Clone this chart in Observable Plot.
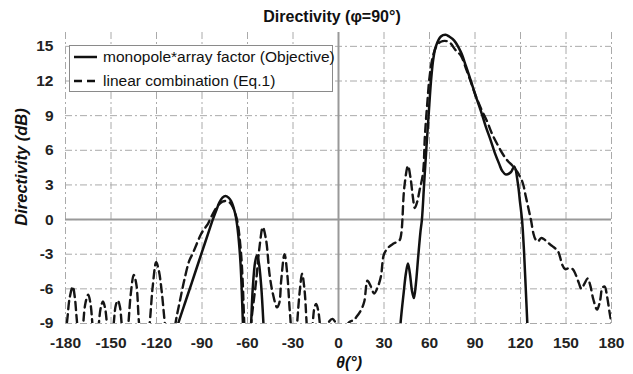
<!DOCTYPE html>
<html><head><meta charset="utf-8">
<script src="https://cdn.jsdelivr.net/npm/d3@7"></script>
<script src="https://cdn.jsdelivr.net/npm/@observablehq/plot@0.6"></script>
<style>
body{margin:0;background:#fff;font-family:"Liberation Sans",Arial,sans-serif;}
#wrap{position:relative;width:633px;height:374px;overflow:hidden;background:#fff;}
#title{position:absolute;top:9px;left:332px;transform:translateX(-50%);font-size:16px;line-height:16px;font-weight:bold;color:#111;white-space:nowrap;}
#chart{position:absolute;top:24px;left:0;}
#ylab{position:absolute;left:21px;top:167px;transform:translate(-50%,-50%) rotate(-90deg);font-size:16.5px;font-weight:bold;font-style:italic;color:#111;white-space:nowrap;}
#xlab{position:absolute;left:349px;top:363px;transform:translate(-50%,-50%);font-size:16px;font-weight:bold;font-style:italic;color:#111;white-space:nowrap;}
#legend{position:absolute;left:69px;top:45px;width:262px;height:45px;border:1.5px solid #8a8a8a;background:#fff;}
.li{position:absolute;left:3px;height:20px;display:flex;align-items:center;font-size:15.5px;color:#111;white-space:nowrap;}
.li svg{margin-right:5px;}
</style></head>
<body>
<div id="wrap">
  <div id="title">Directivity (φ=90°)</div>
  <div id="chart"></div>
  <div id="ylab">Directivity (dB)</div>
  <div id="xlab">θ(°)</div>
  <div id="legend"></div>
</div>
<script>
const seriesNames = ["monopole*array factor (Objective)", "linear combination (Eq.1)"];
const xTicks = [-180,-150,-120,-90,-60,-30,0,30,60,90,120,150,180];
const yTicks = [-9,-6,-3,0,3,6,9,12,15];

// Solid: monopole*array factor (null = gap)
const solidTheta = [
  -108,-105.7,-100,-95,-90,-85,-82.9,-80,-78.5,-76.5,-74.5,-72.5,-70.8,-68.1,-66.4,-64.6,-63,-62,
  -60,
  -58.5,-57.6,-56.5,-55,-53.8,-52.5,-51,-49.5,-48.5,
  0,
  39.5,40.9,43,44.5,45.8,47,48.5,49.7,51,52.5,54,55,56.5,58,59.4,61,62.5,64.2,67.5,70.6,73,76.3,80.7,84,87.3,90.5,93.9,97,100.5,103,106,108,110.4,113.6,115.9,118.3,119.6,121,122.3,123.4,124.5,125.5
];
const solidDb = [
  -10,-9,-6.75,-4.78,-2.8,-0.83,0,1.0,1.5,1.9,2.05,1.9,1.6,0.5,-0.95,-3.8,-9,-12,
  null,
  -12,-9,-5.9,-3.7,-3.1,-3.75,-5.7,-9,-12,
  null,
  -12,-9,-6.3,-4.6,-3.8,-4.6,-6.2,-6.8,-5.6,-3.3,-1.1,0,3.2,6.3,9,12,13.9,15.0,15.85,16.0,15.85,15.5,14.5,13.3,12.0,10.7,9.4,8.1,6.8,5.8,4.8,4.2,3.9,4.1,4.6,3.1,1.6,0,-2.7,-5.8,-9,-12
];

// Dashed: linear combination (Eq.1)
const dashTheta = [
  -180,-178.7,-177.3,-175.2,-173.8,-172.8,-172,-170,
  -168.3,-166.8,-165,-163.5,-162.3,-160,
  -158,-156.7,-155.3,-154,-152.7,-150.5,
  -148.2,-146.8,-145.5,-144.2,-143,-141,
  -138.5,-137,-135,-133.3,-131.5,-128,
  -124.5,-122.5,-120.2,-118.5,-116.5,-114.5,-111,
  -107.5,-104.5,-101.6,-98.5,-96,-90.6,-88.4,-86,-84,-79.6,-76.5,-74,-71.5,-69.7,-66.8,-64.6,-63.3,-62.4,-61.5,-60,
  -58.5,-57.6,-54.3,-52.1,-49.9,-47.7,-45.5,-43.3,-40.5,-39,-37.8,-35.6,-33.8,-32.3,-31.5,-30,
  -27.3,-25.7,-24,-22.4,-21,-19,
  -17,-15.8,-14.7,-13.5,-12.3,-10,
  -8,-6,-4,-2,0,2.5,5,7.5,10,12,15,17,19.1,21,23.5,26,28,30,33,36,40.2,41.4,43.4,45.8,47.5,49,50.3,51.8,53.4,55.7,57,58.5,60,62,64.5,67.5,71.5,74,77,80.7,84,87.3,90.5,94,98.3,101,104,108.2,111.5,114.8,118,121.4,123.5,125.5,127,128.5,129.8,131.5,133.5,135.5,138,141,144.5,146,147.5,149.5,152,154.5,156.5,158.5,160.2,162,164.3,166,168,170.5,172.5,174,175.5,177,178.8,180
];
const dashDb = [
  -10,-8.5,-6.8,-5.8,-6.8,-8.3,-9.5,-13,
  -9,-7.2,-6.5,-7.3,-9,-13,
  -9,-7.6,-7.1,-7.6,-9,-13,
  -9,-7.4,-7.0,-7.5,-9,-13,
  -9,-6.5,-4.8,-5.6,-9,-13,
  -9,-5.8,-3.7,-4.4,-6.3,-9,-13,
  -9,-7,-5.2,-3.6,-2.9,-1.25,-0.8,-0.35,0.2,1.2,1.55,1.6,1.45,1.1,-0.1,-2.4,-5,-8.1,-11,-14,
  -11,-9,-5.3,-2.4,-0.66,-1.8,-4.7,-6.4,-7.6,-7.2,-5.3,-3.0,-4.7,-7.6,-9,-13,
  -9,-6.4,-4.7,-6.1,-9,-13,
  -9,-7.6,-7.3,-7.8,-9,-13,
  -9.6,-8.8,-8.6,-8.9,-9.4,-9.6,-9.2,-8.85,-8.7,-8.4,-7.8,-7.1,-5.3,-5.7,-6.4,-5.8,-4.9,-3.0,-2.4,-2.1,-1.8,-1.2,2.8,4.65,3.6,2.0,1.0,1.5,2.5,4.0,7.3,10,12.3,14.0,15.0,15.4,15.45,15.25,14.7,14.2,13.1,11.9,10.7,9.6,8.4,7.5,6.7,5.7,5.1,4.65,4.1,3.2,2.0,0.8,-0.1,-1.2,-1.7,-1.9,-1.6,-1.7,-2.0,-2.3,-2.7,-3.2,-3.9,-4.3,-4.2,-4.3,-4.8,-5.5,-6.0,-5.6,-5.1,-5.7,-6.9,-7.8,-7.0,-5.9,-5.8,-6.6,-8.1,-9
];

const solid = solidTheta.map((t,i)=>({theta:t, db:solidDb[i]}));
const dashed = dashTheta.map((t,i)=>({theta:t, db:dashDb[i]}));

const plot = Plot.plot({
  width: 633, height: 350,
  marginLeft: 65, marginRight: 22, marginTop: 8, marginBottom: 51,
  style: {fontFamily: '"Liberation Sans", Arial, sans-serif', fontSize: "15.5px", fontWeight: "bold", color: "#222", background: "transparent"},
  x: {domain: [-180, 180], label: null},
  y: {domain: [-9, 16.2], label: null},
  marks: [
    Plot.gridX(xTicks, {stroke: "#aaa", strokeOpacity: 1, strokeWidth: 1, strokeDasharray: "7,3,2,3"}),
    Plot.gridY(yTicks, {stroke: "#aaa", strokeOpacity: 1, strokeWidth: 1, strokeDasharray: "7,3,2,3"}),
    Plot.ruleX([0], {stroke: "#999", strokeWidth: 2}),
    Plot.ruleY([0], {stroke: "#999", strokeWidth: 2}),
    Plot.line(dashed, {x: "theta", y: "db", stroke: "#151515", strokeWidth: 2.4, strokeDasharray: "8,5", curve: "catmull-rom", clip: true}),
    Plot.line(solid, {x: "theta", y: "db", stroke: "#111", strokeWidth: 2.5, curve: "catmull-rom", clip: true}),
    Plot.axisX({ticks: xTicks, tickSize: 0, tickPadding: 13, tickFormat: d => String(d), label: null}),
    Plot.axisY({ticks: yTicks, tickSize: 0, tickPadding: 12, tickFormat: d => String(d), label: null})
  ]
});
document.getElementById("chart").appendChild(plot);

// Legend
const lg = document.getElementById("legend");
const dashes = [null, "8,5"];
seriesNames.forEach((name, i) => {
  const row = document.createElement("div");
  row.className = "li";
  row.style.top = (i === 0 ? 1 : 25) + "px";
  row.innerHTML = `<svg width="25" height="6"><line x1="1" x2="24" y1="3" y2="3" stroke="#111" stroke-width="2.5" ${dashes[i] ? `stroke-dasharray="${dashes[i]}"` : ""}/></svg><span>${name}</span>`;
  lg.appendChild(row);
});
</script>
</body></html>
